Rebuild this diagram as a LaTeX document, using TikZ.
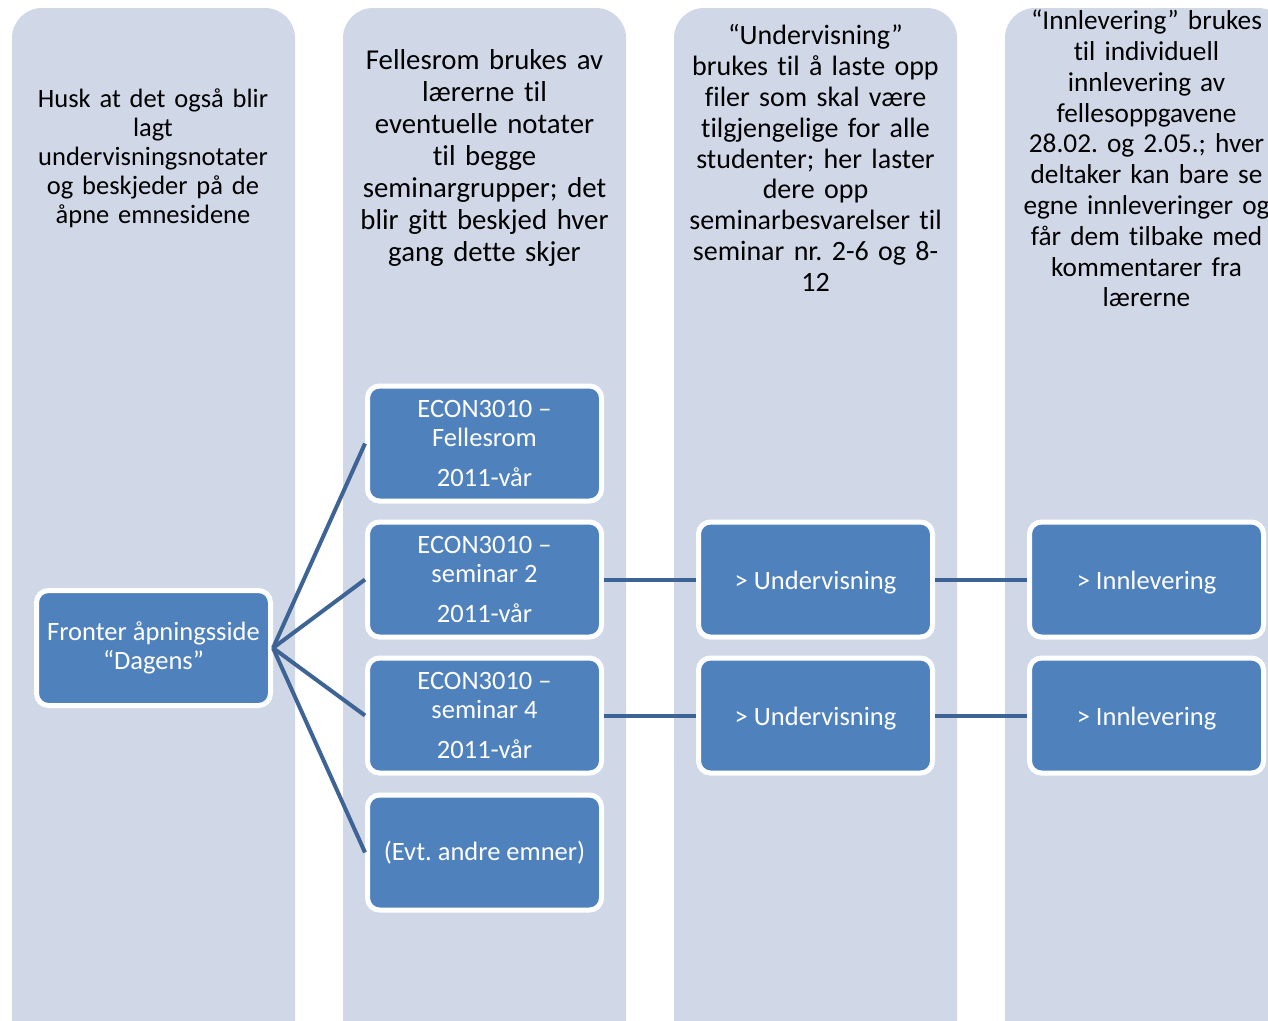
\documentclass[tikz,border=0pt]{standalone}
\usepackage{fontspec}
\setmainfont{Carlito}[Ligatures={NoCommon}]
\frenchspacing

\definecolor{colbg}{RGB}{208,216,232}
\definecolor{boxblue}{RGB}{79,129,189}
\definecolor{linkblue}{RGB}{62,100,150}

\newcommand{\lowered}[1]{\raisebox{-3pt}[\height][\depth]{#1}}

\tikzset{
  column/.style={
    fill=colbg,rounded corners=30pt,
  },
  coltext/.style 2 args={
    text width=275pt,align=center,inner sep=0pt,
    font=\fontsize{#1}{#2}\selectfont,
  },
  box/.style={
    rectangle,rounded corners=12pt,fill=boxblue,draw=white,line width=5pt,
    minimum width=234pt,minimum height=115pt,inner sep=0pt,
    text=white,align=center,font=\fontsize{26.5}{29}\selectfont,
  },
  link/.style={
    draw=linkblue,line width=4pt,
  }
}

\begin{document}
\begin{tikzpicture}[x=1pt,y=-1pt]
    \useasboundingbox (0,0) rectangle (1268,1020);
    \clip (0,0) rectangle (1268,1020);

    % background columns
    \fill[column] (12,8)   rectangle (295,1060);
    \fill[column] (343,8)  rectangle (626,1060);
    \fill[column] (674,8)  rectangle (957,1060);
    \fill[column] (1005,8) rectangle (1288,1060);

    \node[coltext={26.5}{29}] (husk) at (153,158) {Husk at det også blir\\lagt\\undervisningsnotater\\og beskjeder på de\\åpne emnesidene};
    \node[coltext={28.8}{32}] (fellestxt) at (484.5,158) {Fellesrom brukes av\\lærerne til\\eventuelle notater\\til begge\\seminargrupper; det\\blir gitt beskjed hver\\gang dette skjer};
    \node[coltext={28}{30.8}] (undtxt) at (815.5,158) {“Undervisning”\\brukes til å laste opp\\filer som skal være\\tilgjengelige for alle\\studenter; her laster\\dere opp\\seminarbesvarelser til\\seminar nr. 2-6 og 8-\\12};
    \node[coltext={27.3}{30.8}] (innltxt) at (1146.5,158.5) {“Innlevering” brukes\\til individuell\\innlevering av\\fellesoppgavene\\28.02. og 2.05.; hver\\deltaker kan bare se\\egne innleveringer og\\får dem tilbake med\\kommentarer fra\\lærerne};

    % boxes
    \node[box] (fronter) at (153.5,648) {Fronter åpningsside\\“Dagens”};

    \node[box] (fellesrom) at (484.5,443.5) {ECON3010 –\\Fellesrom\\[11pt]2011-vår};
    \node[box] (sem2)      at (484.5,579.5) {ECON3010 –\\seminar 2\\[11pt]2011-vår};
    \node[box] (sem4)      at (484.5,715.5) {ECON3010 –\\seminar 4\\[11pt]2011-vår};
    \node[box] (andre)     at (484.5,852.5) {(Evt. andre emner)};

    \node[box] (und2) at (815.5,579.5) {\lowered{> Undervisning}};
    \node[box] (und4) at (815.5,715.5) {\lowered{> Undervisning}};

    \node[box] (innl2) at (1146.5,579.5) {\lowered{> Innlevering}};
    \node[box] (innl4) at (1146.5,715.5) {\lowered{> Innlevering}};

    % connectors
    \foreach \n in {fellesrom,sem2,sem4,andre}
      \draw[link] (fronter.east) -- (\n.west);
    \draw[link] (sem2.east) -- (und2.west);
    \draw[link] (sem4.east) -- (und4.west);
    \draw[link] (und2.east) -- (innl2.west);
    \draw[link] (und4.east) -- (innl4.west);
\end{tikzpicture}
\end{document}
